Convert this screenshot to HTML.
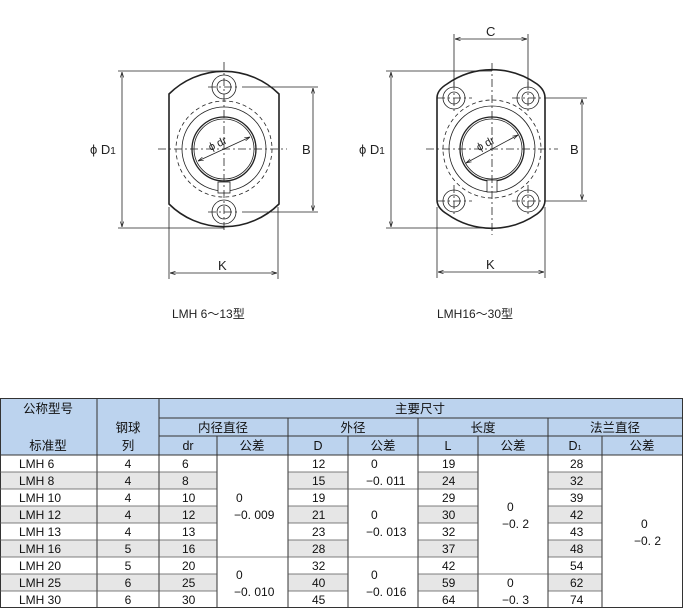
<!DOCTYPE html>
<html><head><meta charset="utf-8"><style>
html,body{margin:0;padding:0;background:#fff;}
body{width:683px;height:612px;overflow:hidden;position:relative;font-family:"Liberation Sans","Noto Sans CJK SC",sans-serif;}
svg{position:absolute;left:0;top:0;}
.t{font-family:"Liberation Sans Narrow","Liberation Sans","Noto Sans CJK SC",sans-serif;font-size:12px;fill:#111;}
.h{font-family:"Liberation Sans","Noto Sans CJK SC",sans-serif;font-size:12.5px;fill:#111;}
</style></head><body>
<svg width="683" height="612" viewBox="0 0 683 612">
<defs>
<marker id="a" viewBox="0 0 10 10" refX="10" refY="5" markerWidth="7" markerHeight="7" orient="auto-start-reverse"><path d="M0,2 L10,5 L0,8" fill="none" stroke="#222" stroke-width="1.2"/></marker>
</defs>
<g stroke="#222" fill="none" stroke-width="0.8">
<path d="M169,94 A78 78 0 0 1 279,94 L279,204 A78 78 0 0 1 169,204 Z" fill="#fff" stroke-width="1.6"/>
<circle cx="224" cy="149" r="48" stroke-dasharray="4,3"/>
<circle cx="224" cy="149" r="42"/>
<circle cx="224" cy="149" r="32" stroke-width="1.3"/>
<circle cx="224" cy="149" r="30"/>
<rect x="218" y="182" width="12" height="11" fill="#fff"/>
<circle cx="224" cy="87" r="12"/><circle cx="224" cy="87" r="7"/>
<circle cx="224" cy="212" r="12"/><circle cx="224" cy="212" r="7"/>
<g stroke-dasharray="8,3,2,3">
<line x1="224" y1="62" x2="224" y2="232"/>
<line x1="158" y1="149" x2="287" y2="149"/>
<line x1="208" y1="87" x2="240" y2="87"/><line x1="208" y1="212" x2="240" y2="212"/>
</g>
<line x1="198" y1="161" x2="250" y2="137" marker-start="url(#a)" marker-end="url(#a)"/>
<line x1="118" y1="71" x2="224" y2="71"/><line x1="118" y1="228" x2="224" y2="228"/>
<line x1="122" y1="72" x2="122" y2="227" marker-start="url(#a)" marker-end="url(#a)"/>
<line x1="242" y1="87" x2="318" y2="87"/><line x1="242" y1="212" x2="318" y2="212"/>
<line x1="313" y1="88" x2="313" y2="211" marker-start="url(#a)" marker-end="url(#a)"/>
<line x1="169" y1="207" x2="169" y2="279"/><line x1="278" y1="207" x2="278" y2="279"/>
<line x1="170" y1="273" x2="277" y2="273" marker-start="url(#a)" marker-end="url(#a)"/>
<path d="M437,200 L437,98 Q437,90 447,84 A78 78 0 0 1 537,84 Q545,90 545,98 L545,200 Q545,208 537,214 A78 78 0 0 1 447,214 Q437,208 437,200 Z" fill="#fff" stroke-width="1.6"/>
<circle cx="492" cy="149" r="49" stroke-dasharray="4,3"/>
<circle cx="492" cy="149" r="43"/>
<circle cx="492" cy="149" r="32" stroke-width="1.3"/>
<circle cx="492" cy="149" r="30"/>
<rect x="487" y="180" width="10" height="12" fill="#fff"/>
<circle cx="454" cy="98" r="11"/><circle cx="454" cy="98" r="6"/>
<circle cx="528" cy="98" r="11"/><circle cx="528" cy="98" r="6"/>
<circle cx="454" cy="201" r="11"/><circle cx="454" cy="201" r="6"/>
<circle cx="528" cy="201" r="11"/><circle cx="528" cy="201" r="6"/>
<g stroke-dasharray="8,3,2,3">
<line x1="492" y1="63" x2="492" y2="235"/>
<line x1="426" y1="149" x2="558" y2="149"/>
<line x1="437" y1="98" x2="472" y2="98"/><line x1="512" y1="98" x2="545" y2="98"/>
<line x1="437" y1="201" x2="472" y2="201"/><line x1="512" y1="201" x2="545" y2="201"/>
<line x1="454" y1="82" x2="454" y2="114"/><line x1="528" y1="82" x2="528" y2="114"/>
<line x1="454" y1="185" x2="454" y2="217"/><line x1="528" y1="185" x2="528" y2="217"/>
</g>
<line x1="466" y1="163" x2="518" y2="135" marker-start="url(#a)" marker-end="url(#a)"/>
<line x1="386" y1="71" x2="492" y2="71"/><line x1="386" y1="228" x2="492" y2="228"/>
<line x1="391" y1="72" x2="391" y2="227" marker-start="url(#a)" marker-end="url(#a)"/>
<line x1="545" y1="98" x2="587" y2="98"/><line x1="545" y1="201" x2="587" y2="201"/>
<line x1="582" y1="99" x2="582" y2="200" marker-start="url(#a)" marker-end="url(#a)"/>
<line x1="454" y1="34" x2="454" y2="86"/><line x1="528" y1="34" x2="528" y2="86"/>
<line x1="455" y1="39" x2="527" y2="39" marker-start="url(#a)" marker-end="url(#a)"/>
<line x1="437" y1="207" x2="437" y2="278"/><line x1="545" y1="207" x2="545" y2="278"/>
<line x1="438" y1="272" x2="544" y2="272" marker-start="url(#a)" marker-end="url(#a)"/>
</g>
<g font-family="Liberation Sans, sans-serif" font-size="13" fill="#222">
<text x="90" y="154">ϕ D<tspan font-size="10">1</tspan></text>
<text x="302" y="154">B</text>
<text x="218" y="270">K</text>
<text x="208" y="148" font-size="11" transform="rotate(-25 216 144)">ϕ dr</text>
<text x="359" y="154">ϕ D<tspan font-size="10">1</tspan></text>
<text x="570" y="154">B</text>
<text x="486" y="36">C</text>
<text x="486" y="269">K</text>
<text x="476" y="148" font-size="11" transform="rotate(-28 484 144)">ϕ dr</text>
<text x="172" y="318" font-size="12" font-family="Liberation Sans, Noto Sans CJK SC, sans-serif">LMH 6～13型</text>
<text x="437" y="318" font-size="12" font-family="Liberation Sans, Noto Sans CJK SC, sans-serif">LMH16～30型</text>
</g>
<g>
<rect x="0" y="398" width="683" height="57" fill="#bcd3ee"/>
<rect x="0" y="455" width="683" height="153" fill="#fff"/>
<g fill="#e6e6e6">
<rect x="0" y="472" width="217" height="17"/><rect x="288" y="472" width="60" height="17"/><rect x="418" y="472" width="60" height="17"/><rect x="548" y="472" width="54" height="17"/>
<rect x="0" y="506" width="217" height="17"/><rect x="288" y="506" width="60" height="17"/><rect x="418" y="506" width="60" height="17"/><rect x="548" y="506" width="54" height="17"/>
<rect x="0" y="540" width="217" height="17"/><rect x="288" y="540" width="60" height="17"/><rect x="418" y="540" width="60" height="17"/><rect x="548" y="540" width="54" height="17"/>
<rect x="0" y="574" width="217" height="17"/><rect x="288" y="574" width="60" height="17"/><rect x="418" y="574" width="60" height="17"/><rect x="548" y="574" width="54" height="17"/>
</g>
<g stroke="#333" stroke-width="1" fill="none">
<rect x="0.5" y="398.5" width="682" height="209"/>
<line x1="97" y1="398" x2="97" y2="608"/><line x1="159" y1="398" x2="159" y2="608"/>
<line x1="159" y1="418" x2="683" y2="418"/>
<line x1="159" y1="436" x2="683" y2="436"/>
<line x1="0" y1="455" x2="683" y2="455"/>
<line x1="288" y1="418" x2="288" y2="608"/><line x1="418" y1="418" x2="418" y2="608"/><line x1="548" y1="418" x2="548" y2="608"/>
<line x1="217" y1="436" x2="217" y2="608"/><line x1="348" y1="436" x2="348" y2="608"/><line x1="478" y1="436" x2="478" y2="608"/><line x1="602" y1="436" x2="602" y2="608"/>
<g stroke="#555" stroke-width="0.8">
<path d="M0,472H217M288,472H348M418,472H478M548,472H602"/>
<path d="M0,489H217M288,489H418M418,489H478M548,489H602"/>
<path d="M0,506H217M288,506H348M418,506H478M548,506H602"/>
<path d="M0,523H217M288,523H348M418,523H478M548,523H602"/>
<path d="M0,540H217M288,540H348M418,540H478M548,540H602"/>
<path d="M0,557H288M288,557H418M418,557H478M548,557H602"/>
<path d="M0,574H217M288,574H348M418,574H548M548,574H602"/>
<path d="M0,591H217M288,591H348M418,591H478M548,591H602"/>
</g>
</g>
<g class="h" text-anchor="middle">
<text x="48" y="413">公称型号</text>
<text x="48" y="450">标准型</text>
<text x="128" y="432">钢球</text>
<text x="128" y="450">列</text>
<text x="420" y="413">主要尺寸</text>
<text x="223" y="432">内径直径</text>
<text x="353" y="432">外径</text>
<text x="483" y="432">长度</text>
<text x="615" y="432">法兰直径</text>
<text x="188" y="450">dr</text>
<text x="252" y="450">公差</text>
<text x="318" y="450">D</text>
<text x="383" y="450">公差</text>
<text x="448" y="450">L</text>
<text x="513" y="450">公差</text>
<text x="575" y="450">D<tspan font-size="7">1</tspan></text>
<text x="642" y="450">公差</text>
</g>
<g class="t">
<g>
<text x="19" y="468">LMH 6</text><text x="19" y="485">LMH 8</text><text x="19" y="502">LMH 10</text>
<text x="19" y="519">LMH 12</text><text x="19" y="536">LMH 13</text><text x="19" y="553">LMH 16</text>
<text x="19" y="570">LMH 20</text><text x="19" y="587">LMH 25</text><text x="19" y="604">LMH 30</text>
</g>
<g text-anchor="middle">
<text x="128" y="468">4</text><text x="128" y="485">4</text><text x="128" y="502">4</text><text x="128" y="519">4</text><text x="128" y="536">4</text><text x="128" y="553">5</text><text x="128" y="570">5</text><text x="128" y="587">6</text><text x="128" y="604">6</text>
</g>
<g>
<text x="182" y="468">6</text><text x="182" y="485">8</text><text x="182" y="502">10</text><text x="182" y="519">12</text><text x="182" y="536">13</text><text x="182" y="553">16</text><text x="182" y="570">20</text><text x="182" y="587">25</text><text x="182" y="604">30</text>
<text x="312" y="468">12</text><text x="312" y="485">15</text><text x="312" y="502">19</text><text x="312" y="519">21</text><text x="312" y="536">23</text><text x="312" y="553">28</text><text x="312" y="570">32</text><text x="312" y="587">40</text><text x="312" y="604">45</text>
<text x="442" y="468">19</text><text x="442" y="485">24</text><text x="442" y="502">29</text><text x="442" y="519">30</text><text x="442" y="536">32</text><text x="442" y="553">37</text><text x="442" y="570">42</text><text x="442" y="587">59</text><text x="442" y="604">64</text>
<text x="570" y="468">28</text><text x="570" y="485">32</text><text x="570" y="502">39</text><text x="570" y="519">42</text><text x="570" y="536">43</text><text x="570" y="553">48</text><text x="570" y="570">54</text><text x="570" y="587">62</text><text x="570" y="604">74</text>
</g>
<g>
<text x="236" y="502">0</text><text x="234" y="519">−0. 009</text>
<text x="236" y="579">0</text><text x="234" y="596">−0. 010</text>
<text x="371" y="468">0</text><text x="366" y="485">−0. 011</text>
<text x="371" y="519">0</text><text x="366" y="536">−0. 013</text>
<text x="371" y="579">0</text><text x="366" y="596">−0. 016</text>
<text x="507" y="511">0</text><text x="502" y="528">−0. 2</text>
<text x="507" y="587">0</text><text x="502" y="604">−0. 3</text>
<text x="641" y="528">0</text><text x="634" y="545">−0. 2</text>
</g>
</g>
</g>
</svg>
</body></html>
